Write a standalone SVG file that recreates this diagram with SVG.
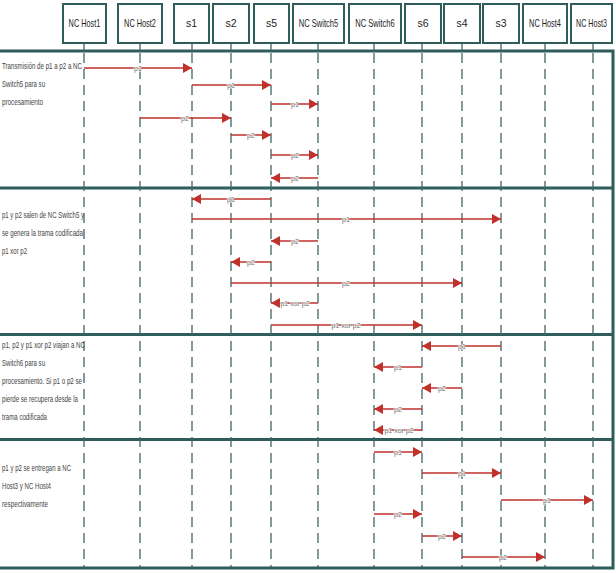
<svg xmlns="http://www.w3.org/2000/svg" width="616" height="573" viewBox="0 0 616 573">
<style>
.box{fill:#fff;stroke:#2e5d5b;stroke-width:2}
.hdr{font-family:"Liberation Sans",Arial,sans-serif;font-size:10.5px;fill:#1e1e1e;text-anchor:middle}
.frame{fill:none;stroke:#2e5d5b;stroke-width:3}
.div{stroke:#2e5d5b;stroke-width:3}
.tick{stroke:#3f6664;stroke-width:1.3}
.life{stroke:#3f6664;stroke-width:1.3;stroke-dasharray:10 6;fill:none}
.msg{stroke:#c0312b;stroke-width:1.6;fill:none}
.lbl{font-family:"Liberation Sans",Arial,sans-serif;font-size:7px;fill:#6e6e6e;text-anchor:middle;stroke:#fff;stroke-width:1.1;paint-order:stroke}
.note{font-family:"Liberation Sans",Arial,sans-serif;font-size:9.5px;fill:#444}
</style>
<defs>
<marker id="ah" markerUnits="userSpaceOnUse" markerWidth="9" markerHeight="10" refX="9" refY="5" orient="auto">
<path d="M0,0 L9,5 L0,10 z" fill="#c0312b"/>
</marker>
</defs>
<rect x="0" y="0" width="616" height="573" fill="#fff"/>
<g id="frame">
<path class="frame" d="M-3,51 H613 V568 H-3"/>
<line class="div" x1="-3" y1="188" x2="613" y2="188"/>
<line class="div" x1="-3" y1="334.5" x2="613" y2="334.5"/>
<line class="div" x1="-3" y1="439.5" x2="613" y2="439.5"/>
</g>
<g id="lifelines">
<path class="life" d="M84,53V567M140,53V567M192,53V567M231,53V567M271,53V567M318,53V567M374,53V567M422,53V567M462,53V567M501,53V567M545,53V567M593,53V567"/>
<path class="tick" d="M84,43V51M140,43V51M192,43V51M231,43V51M271,43V51M318,43V51M374,43V51M422,43V51M462,43V51M501,43V51M545,43V51M593,43V51"/>
</g>
<g id="n-nchost1"><rect class="box" x="63" y="4" width="43" height="39"/><text class="hdr" transform="translate(84.5,27) scale(0.7,1)">NC Host1</text></g>
<g id="n-nchost2"><rect class="box" x="118" y="4" width="44" height="39"/><text class="hdr" transform="translate(140,27) scale(0.7,1)">NC Host2</text></g>
<g id="n-s1"><rect class="box" x="174" y="4" width="35" height="39"/><text class="hdr" x="191.5" y="27">s1</text></g>
<g id="n-s2"><rect class="box" x="213" y="4" width="36" height="39"/><text class="hdr" x="231" y="27">s2</text></g>
<g id="n-s5"><rect class="box" x="254" y="4" width="35" height="39"/><text class="hdr" x="271.5" y="27">s5</text></g>
<g id="n-ncswitch5"><rect class="box" x="293" y="4" width="51" height="39"/><text class="hdr" transform="translate(318.5,27) scale(0.72,1)">NC Switch5</text></g>
<g id="n-ncswitch6"><rect class="box" x="349" y="4" width="52" height="39"/><text class="hdr" transform="translate(375,27) scale(0.72,1)">NC Switch6</text></g>
<g id="n-s6"><rect class="box" x="405" y="4" width="36" height="39"/><text class="hdr" x="423" y="27">s6</text></g>
<g id="n-s4"><rect class="box" x="444" y="4" width="36" height="39"/><text class="hdr" x="462" y="27">s4</text></g>
<g id="n-s3"><rect class="box" x="483" y="4" width="36" height="39"/><text class="hdr" x="501" y="27">s3</text></g>
<g id="n-nchost4"><rect class="box" x="523" y="4" width="44" height="39"/><text class="hdr" transform="translate(545,27) scale(0.7,1)">NC Host4</text></g>
<g id="n-nchost3"><rect class="box" x="571" y="4" width="41" height="39"/><text class="hdr" transform="translate(591.5,27) scale(0.68,1)">NC Host3</text></g>
<g id="notes">
<text class="note" x="2" y="69" textLength="80" lengthAdjust="spacingAndGlyphs">Transmisión de p1 a p2  a NC</text>
<text class="note" x="2" y="87" textLength="43" lengthAdjust="spacingAndGlyphs">Switch5 para su</text>
<text class="note" x="2" y="105" textLength="41" lengthAdjust="spacingAndGlyphs">procesamiento</text>
<text class="note" x="2" y="218" textLength="82" lengthAdjust="spacingAndGlyphs">p1 y p2 salen de NC Switch5 y</text>
<text class="note" x="2" y="236" textLength="81" lengthAdjust="spacingAndGlyphs">se genera la trama codificada</text>
<text class="note" x="2" y="254" textLength="25" lengthAdjust="spacingAndGlyphs">p1 xor p2</text>
<text class="note" x="2" y="348" textLength="83" lengthAdjust="spacingAndGlyphs">p1, p2 y p1 xor p2 viajan a NC</text>
<text class="note" x="2" y="366" textLength="43" lengthAdjust="spacingAndGlyphs">Switch6 para su</text>
<text class="note" x="2" y="384" textLength="80" lengthAdjust="spacingAndGlyphs">procesamiento. Si p1 o p2 se</text>
<text class="note" x="2" y="402" textLength="76" lengthAdjust="spacingAndGlyphs">pierde se recupera desde la</text>
<text class="note" x="2" y="420" textLength="45" lengthAdjust="spacingAndGlyphs">trama codificada</text>
<text class="note" x="2" y="471" textLength="69" lengthAdjust="spacingAndGlyphs">p1 y p2 se entregan a NC</text>
<text class="note" x="2" y="489" textLength="49" lengthAdjust="spacingAndGlyphs">Host3 y NC Host4</text>
<text class="note" x="2" y="507" textLength="46" lengthAdjust="spacingAndGlyphs">respectivamente</text>
</g>
<g id="connectors">
<line class="msg" x1="84" y1="68" x2="192" y2="68" marker-end="url(#ah)"/><text class="lbl" x="138" y="70.5">p1</text>
<line class="msg" x1="192" y1="85" x2="271" y2="85" marker-end="url(#ah)"/><text class="lbl" x="231" y="87.5">p1</text>
<line class="msg" x1="271" y1="104" x2="318" y2="104" marker-end="url(#ah)"/><text class="lbl" x="295" y="106.5">p1</text>
<line class="msg" x1="140" y1="118" x2="231" y2="118" marker-end="url(#ah)"/><text class="lbl" x="185" y="120.5">p2</text>
<line class="msg" x1="231" y1="135" x2="271" y2="135" marker-end="url(#ah)"/><text class="lbl" x="251" y="137.5">p2</text>
<line class="msg" x1="271" y1="155" x2="318" y2="155" marker-end="url(#ah)"/><text class="lbl" x="295" y="157.5">p2</text>
<line class="msg" x1="318" y1="178" x2="271" y2="178" marker-end="url(#ah)"/><text class="lbl" x="295" y="180.5">p2</text>

<line class="msg" x1="271" y1="199" x2="192" y2="199" marker-end="url(#ah)"/><text class="lbl" x="231" y="201.5">p1</text>
<line class="msg" x1="192" y1="219" x2="501" y2="219" marker-end="url(#ah)"/><text class="lbl" x="346" y="221.5">p1</text>
<line class="msg" x1="318" y1="241" x2="271" y2="241" marker-end="url(#ah)"/><text class="lbl" x="295" y="243.5">p2</text>
<line class="msg" x1="271" y1="262" x2="231" y2="262" marker-end="url(#ah)"/><text class="lbl" x="251" y="264.5">p2</text>
<line class="msg" x1="231" y1="283" x2="462" y2="283" marker-end="url(#ah)"/><text class="lbl" x="346" y="285.5">p2</text>
<line class="msg" x1="318" y1="303" x2="271" y2="303" marker-end="url(#ah)"/><text class="lbl" x="295" y="305.5">p1 xor p2</text>
<line class="msg" x1="271" y1="325" x2="422" y2="325" marker-end="url(#ah)"/><text class="lbl" x="346" y="327.5">p1 xor p2</text>

<line class="msg" x1="501" y1="346" x2="422" y2="346" marker-end="url(#ah)"/><text class="lbl" x="462" y="348.5">p1</text>
<line class="msg" x1="422" y1="367" x2="374" y2="367" marker-end="url(#ah)"/><text class="lbl" x="398" y="369.5">p1</text>
<line class="msg" x1="462" y1="388" x2="422" y2="388" marker-end="url(#ah)"/><text class="lbl" x="442" y="390.5">p2</text>
<line class="msg" x1="422" y1="409" x2="374" y2="409" marker-end="url(#ah)"/><text class="lbl" x="398" y="411.5">p2</text>
<line class="msg" x1="422" y1="430" x2="374" y2="430" marker-end="url(#ah)"/><text class="lbl" x="399" y="432.5">p1 xor p2</text>

<line class="msg" x1="374" y1="452" x2="422" y2="452" marker-end="url(#ah)"/><text class="lbl" x="398" y="454.5">p1</text>
<line class="msg" x1="422" y1="473" x2="501" y2="473" marker-end="url(#ah)"/><text class="lbl" x="462" y="475.5">p1</text>
<line class="msg" x1="501" y1="500" x2="593" y2="500" marker-end="url(#ah)"/><text class="lbl" x="547" y="502.5">p1</text>
<line class="msg" x1="374" y1="514" x2="422" y2="514" marker-end="url(#ah)"/><text class="lbl" x="398" y="516.5">p2</text>
<line class="msg" x1="422" y1="536" x2="462" y2="536" marker-end="url(#ah)"/><text class="lbl" x="442" y="538.5">p2</text>
<line class="msg" x1="462" y1="557" x2="545" y2="557" marker-end="url(#ah)"/><text class="lbl" x="503" y="559.5">p2</text>
</g>
</svg>
